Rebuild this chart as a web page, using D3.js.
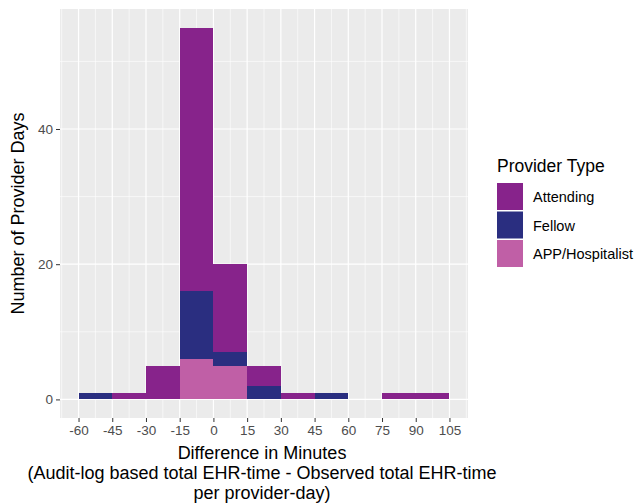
<!DOCTYPE html>
<html>
<head>
<meta charset="utf-8">
<script src="https://cdn.jsdelivr.net/npm/d3@7"></script>
<style>
  body { margin: 0; background: white; }
  svg { font-family: "Liberation Sans", Arial, sans-serif; }
</style>
</head>
<body>
<div id="chart"></div>
<script>
// Histogram bins (left edge, width 15 minutes)
var binStarts = [-60, -45, -30, -15, 0, 15, 30, 45, 60, 75, 90];
var binWidth = 15;

// Counts per provider type, one value per bin
var attending = [0, 1, 5, 39, 13, 3, 1, 0, 0, 1, 1];
var fellow    = [1, 0, 0, 10, 2, 2, 0, 1, 0, 0, 0];
var appHosp   = [0, 0, 0, 6, 5, 0, 0, 0, 0, 0, 0];

var providerTypes = ["Attending", "Fellow", "APP/Hospitalist"];
var typeColors = ["#87238b", "#2a2e80", "#c05fa6"];

var xTicks = [-60, -45, -30, -15, 0, 15, 30, 45, 60, 75, 90, 105];
var yTicks = [0, 20, 40];

var width = 637, height = 503;
var panel = { left: 60, right: 468, top: 9, bottom: 418 };

var svg = d3.select("#chart")
    .append("svg")
    .attr("width", width)
    .attr("height", height);

// ggplot-style expanded domains (5% each side)
var xMin = d3.min(binStarts), xMax = d3.max(binStarts) + binWidth;
var xPad = (xMax - xMin) * 0.05;
var yTop = d3.max(binStarts.map((d, i) => attending[i] + fellow[i] + appHosp[i]));
var yPad = yTop * 0.05;

var xScale = d3.scaleLinear()
    .domain([xMin - xPad, xMax + xPad])
    .range([panel.left, panel.right]);

var yScale = d3.scaleLinear()
    .domain([-yPad, yTop + yPad])
    .range([panel.bottom, panel.top]);

// Panel background
svg.append("rect")
    .attr("x", panel.left)
    .attr("y", panel.top)
    .attr("width", panel.right - panel.left)
    .attr("height", panel.bottom - panel.top)
    .attr("fill", "#ebebeb");

// Grid lines: minor then major
var xMinor = d3.range(xTicks[0] - 7.5, xTicks[xTicks.length - 1] + 15, 15)
    .filter(d => d >= xScale.domain()[0] && d <= xScale.domain()[1]);
var yMinor = [10, 30, 50];

var grid = svg.append("g").attr("class", "grid");
grid.selectAll(".xminor").data(xMinor).enter().append("line")
    .attr("x1", d => xScale(d)).attr("x2", d => xScale(d))
    .attr("y1", panel.top).attr("y2", panel.bottom)
    .attr("stroke", "white").attr("stroke-width", 0.6);
grid.selectAll(".yminor").data(yMinor).enter().append("line")
    .attr("y1", d => yScale(d)).attr("y2", d => yScale(d))
    .attr("x1", panel.left).attr("x2", panel.right)
    .attr("stroke", "white").attr("stroke-width", 0.6);
grid.selectAll(".xmajor").data(xTicks).enter().append("line")
    .attr("x1", d => xScale(d)).attr("x2", d => xScale(d))
    .attr("y1", panel.top).attr("y2", panel.bottom)
    .attr("stroke", "white").attr("stroke-width", 1.2);
grid.selectAll(".ymajor").data(yTicks).enter().append("line")
    .attr("y1", d => yScale(d)).attr("y2", d => yScale(d))
    .attr("x1", panel.left).attr("x2", panel.right)
    .attr("stroke", "white").attr("stroke-width", 1.2);

// Stacked bars: Attending on top, APP/Hospitalist at bottom
var rows = binStarts.map((b, i) => ({
    start: b,
    "Attending": attending[i],
    "Fellow": fellow[i],
    "APP/Hospitalist": appHosp[i]
}));
var stack = d3.stack().keys(providerTypes.slice().reverse());
var layers = stack(rows);
var colorScale = d3.scaleOrdinal().domain(providerTypes).range(typeColors);

svg.append("g").selectAll("g")
    .data(layers)
    .enter().append("g")
    .attr("fill", d => colorScale(d.key))
    .selectAll("rect")
    .data(d => d.filter(s => s[1] > s[0]))
    .enter().append("rect")
    .attr("x", d => xScale(d.data.start))
    .attr("width", d => xScale(d.data.start + binWidth) - xScale(d.data.start))
    .attr("y", d => yScale(d[1]))
    .attr("height", d => yScale(d[0]) - yScale(d[1]))
    .attr("shape-rendering", "crispEdges");

// Axes (plain hyphen for negatives, as in ggplot)
var hyphen = d => String(d);
var xAxis = d3.axisBottom(xScale).tickValues(xTicks).tickFormat(hyphen)
    .tickSize(4).tickPadding(3);
var yAxis = d3.axisLeft(yScale).tickValues(yTicks).tickFormat(hyphen)
    .tickSize(4).tickPadding(3);

var gx = svg.append("g")
    .attr("transform", `translate(0,${panel.bottom})`)
    .call(xAxis);
var gy = svg.append("g")
    .attr("transform", `translate(${panel.left},0)`)
    .call(yAxis);

[gx, gy].forEach(g => {
    g.select(".domain").remove();
    g.selectAll(".tick line").attr("stroke", "#333").attr("stroke-width", 1);
    g.selectAll(".tick text")
        .attr("fill", "#4d4d4d")
        .style("font-size", "13.5px")
        .style("font-family", "Liberation Sans, Arial, sans-serif");
});

// Axis titles
var xCenter = 262;
var xTitle = svg.append("text")
    .attr("text-anchor", "middle")
    .attr("fill", "black")
    .style("font-size", "18px");
xTitle.append("tspan").attr("x", xCenter).attr("y", 459).text("Difference in Minutes");
xTitle.append("tspan").attr("x", xCenter).attr("y", 479)
    .text("(Audit-log based total EHR-time - Observed total EHR-time");
xTitle.append("tspan").attr("x", xCenter).attr("y", 499).text("per provider-day)");

svg.append("text")
    .attr("transform", `translate(24,${(panel.top + panel.bottom) / 2})rotate(-90)`)
    .attr("text-anchor", "middle")
    .attr("fill", "black")
    .style("font-size", "18px")
    .text("Number of Provider Days");

// Legend
var legend = svg.append("g").attr("transform", "translate(497,0)");
legend.append("text")
    .attr("x", 0).attr("y", 172)
    .style("font-size", "17.5px")
    .attr("fill", "black")
    .text("Provider Type");

var keys = legend.selectAll(".key")
    .data(providerTypes)
    .enter().append("g")
    .attr("transform", (d, i) => `translate(0,${183 + i * 28.5})`);
keys.append("rect")
    .attr("width", 26).attr("height", 27)
    .attr("fill", d => colorScale(d));
keys.append("text")
    .attr("x", 36).attr("y", 19)
    .style("font-size", "14.5px")
    .attr("fill", "black")
    .text(d => d);
</script>
</body>
</html>
